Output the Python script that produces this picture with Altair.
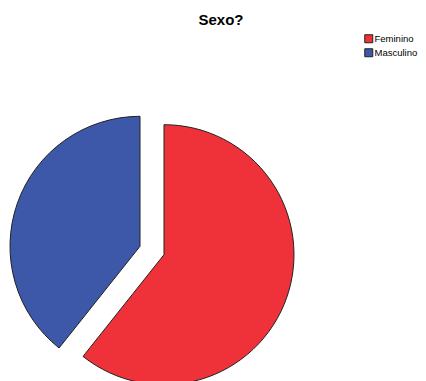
import altair as alt
import pandas as pd

categories = ["Feminino", "Masculino"]
values = [60.7, 39.3]
order = [0, 1]
colors = ["#EF3239", "#3D57A9"]

df = pd.DataFrame({"Sexo": categories, "value": values, "ord": order})

cx, cy, explode, radius = 144, 217.5, 12.7, 130

base = (
    alt.Chart(df)
    .transform_joinaggregate(total="sum(value)")
    .transform_window(cum="sum(value)", sort=[alt.SortField("ord")])
    .transform_calculate(
        mid="2*PI*(datum.cum - datum.value/2)/datum.total",
    )
    .transform_calculate(
        px=f"{cx} + {explode}*sin(datum.mid)",
        py=f"{cy} - {explode}*cos(datum.mid)",
    )
)

chart = (
    base.mark_arc(outerRadius=radius, stroke="#222222", strokeWidth=1)
    .encode(
        theta=alt.Theta("value:Q", stack=True),
        order=alt.Order("ord:Q"),
        color=alt.Color(
            "Sexo:N",
            scale=alt.Scale(domain=categories, range=colors),
            legend=alt.Legend(
                title=None,
                orient="none",
                legendX=356,
                legendY=1,
                padding=0,
                symbolType="square",
                symbolSize=64,
                symbolStrokeColor="#222222",
                symbolStrokeWidth=1,
                symbolOpacity=1,
                labelFont="Liberation Sans",
                labelFontSize=9.5,
                labelColor="#000000",
                labelLimit=200,
                rowPadding=1,
                symbolOffset=0,
                labelOffset=1,
            ),
        ),
        x=alt.X("px:Q", scale=None, axis=None),
        y=alt.Y("py:Q", scale=None, axis=None),
    )
    .properties(
        width=410,
        height=348,
        autosize="none",
        padding={"left": 0, "top": 25, "right": 0, "bottom": 0},
        title=alt.TitleParams(
            "Sexo?",
            font="Liberation Sans",
            fontSize=15,
            fontWeight="bold",
            color="#000000",
            anchor="middle",
            offset=5,
            dx=8,
        ),
    )
    .configure_view(stroke=None)
)

chart.save("out.html", embed_options={"renderer": "svg", "actions": False})
